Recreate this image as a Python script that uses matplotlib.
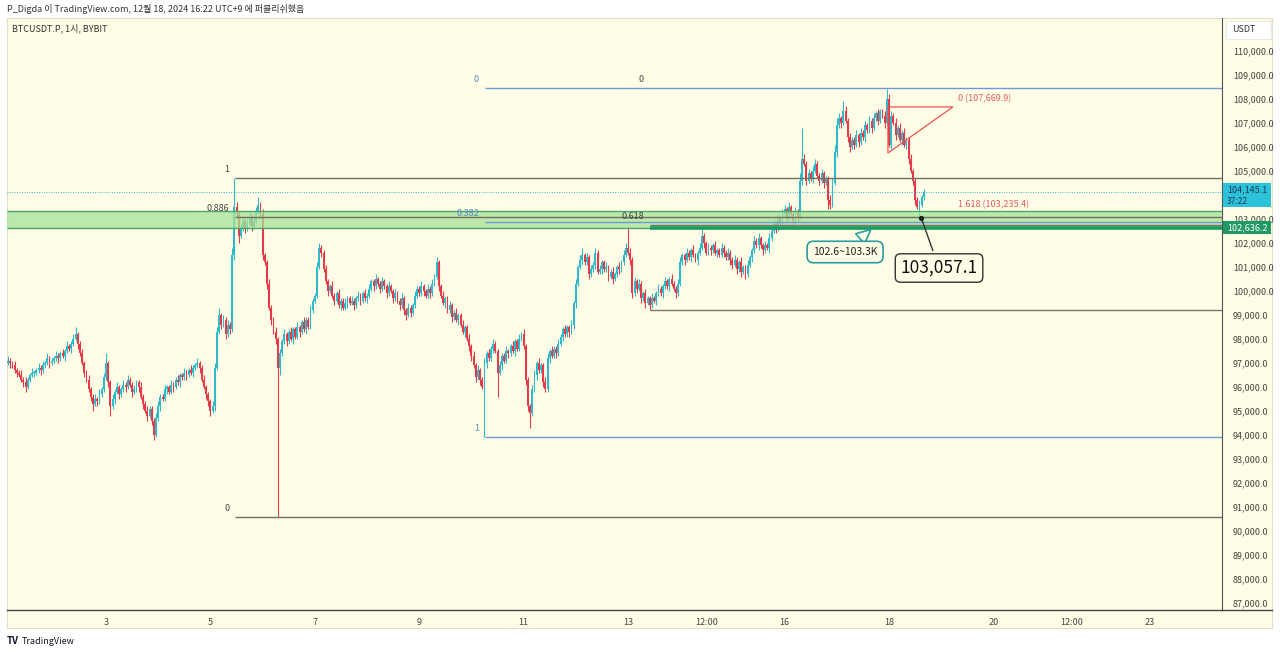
import matplotlib.pyplot as plt
import numpy as np
from matplotlib.patches import Rectangle, Polygon
from matplotlib.lines import Line2D

plt.rcParams["font.family"] = ["Noto Sans CJK KR", "DejaVu Sans"]

W, H = 1280, 654

# hourly candles from Dec 1 02:00 to Dec 18 16:00 (hours counted from Dec 1 00:00)
first_hour = 2
first_open = 96.9
# closes in thousand USDT, one row per day
closes = [
    97.0, 97.1, 97.0, 96.9, 96.7, 96.6, 96.5, 96.3, 96.2, 96.0, 96.3,
    96.5, 96.6, 96.6, 96.7, 96.8, 96.7, 96.9, 97.0, 97.2, 97.0, 97.1,
    97.2, 97.3, 97.2, 97.4, 97.3, 97.5, 97.7, 97.6, 97.8, 98.0, 98.2, 97.8,
    97.4, 97.0, 96.6, 96.3, 95.9, 95.6, 95.3, 95.5, 95.4, 95.7, 95.9, 96.4,
    97.0, 96.2, 95.2, 95.5, 95.8, 96.0, 95.7, 95.9, 96.1, 96.0, 96.3, 96.1,
    95.8, 95.9, 96.2, 96.0, 95.6, 95.3, 95.0, 94.8, 95.1, 94.6, 94.0, 94.7,
    95.2, 95.6, 95.5, 95.9, 96.0, 95.8, 96.1, 96.0, 96.3, 96.2, 96.5, 96.4,
    96.6, 96.5, 96.7, 96.6, 96.8, 96.9, 97.0, 96.8, 96.3, 96.0, 95.7, 95.4,
    95.0, 95.2, 96.8, 98.3, 99.0, 98.6, 98.8, 98.2, 98.6, 98.4, 101.5, 103.5,
    103.2, 102.3, 102.6, 102.9, 102.6, 102.8, 103.1, 102.7, 102.9, 103.3, 103.6, 103.2,
    101.5, 101.2, 100.3, 99.3, 98.8, 98.3, 98.0, 96.8, 97.4, 97.9, 98.2, 97.9,
    98.3, 98.0, 98.4, 98.1, 98.5, 98.3, 98.7, 98.4, 98.8, 98.5, 99.2, 99.6,
    99.8, 101.0, 101.8, 101.6, 100.9, 100.4, 100.0, 100.2, 99.8, 99.6, 99.9, 99.4,
    99.6, 99.3, 99.5, 99.7, 99.5, 99.6, 99.4, 99.7, 99.8, 99.6, 99.9, 99.7,
    99.8, 100.1, 100.4, 100.2, 100.5, 100.3, 100.1, 100.4, 100.2, 99.9, 100.2, 100.0,
    99.7, 99.9, 99.6, 99.4, 99.7, 99.2, 99.0, 99.3, 99.1, 99.4, 99.8, 100.1,
    99.9, 100.2, 100.0, 99.8, 100.1, 99.9, 100.3, 100.6, 101.2, 100.2, 99.8, 99.5,
    99.7, 99.2, 99.4, 98.9, 99.1, 98.8, 99.0, 98.6, 98.3, 98.5, 98.0, 97.7,
    97.3, 96.9, 96.4, 96.7, 96.3, 96.0, 97.0, 97.4, 97.2, 97.6, 97.8, 97.5,
    96.6, 96.9, 97.3, 97.1, 97.5, 97.4, 97.7, 97.5, 97.9, 97.6, 98.0, 98.2,
    97.7, 96.3, 95.2, 94.9, 95.9, 96.5, 97.0, 96.7, 96.9, 96.2, 95.9, 97.2,
    97.5, 97.3, 97.6, 97.4, 97.8, 98.1, 98.4, 98.2, 98.5, 98.3, 98.6, 99.5,
    100.3, 101.0, 101.3, 101.5, 101.2, 101.4, 100.7, 100.9, 101.1, 101.6, 100.8, 100.9,
    101.2, 100.9, 101.0, 100.6, 100.8, 100.5, 100.7, 101.0, 100.9, 101.2, 101.5, 101.8,
    101.6, 101.3, 99.9, 100.4, 100.1, 100.3, 99.7, 99.9, 99.5, 99.7, 99.4, 99.7,
    99.6, 99.9, 100.1, 99.9, 100.2, 100.4, 100.2, 100.5, 100.3, 100.1, 99.9, 100.3,
    101.2, 101.5, 101.3, 101.6, 101.4, 101.7, 101.5, 101.3, 101.6, 101.8, 102.3, 102.0,
    101.6, 101.8, 101.7, 101.9, 101.6, 101.7, 101.5, 101.8, 101.6, 101.4, 101.6, 101.3,
    101.1, 101.3, 100.9, 101.2, 100.8, 101.0, 100.7, 101.1, 101.4, 101.7, 102.1, 101.9,
    102.2, 101.9, 101.7, 101.9, 101.8, 102.2, 102.5, 102.8, 102.6, 103.0, 102.8, 103.2,
    103.4, 103.1, 103.5, 103.2, 102.9, 103.3, 103.1, 104.6, 105.5, 105.3, 104.6, 104.9,
    104.7, 105.0, 105.3, 104.8, 104.6, 104.9, 104.5, 104.7, 103.8, 103.6, 104.5, 105.8,
    106.9, 107.2, 107.0, 107.5, 107.1, 106.4, 106.0, 106.3, 106.1, 106.5, 106.2, 106.6,
    106.4, 106.9, 106.7, 107.1, 106.8, 107.2, 107.4, 107.1, 107.5, 107.3, 107.0, 108.0,
    106.1, 107.3, 107.0, 106.5, 106.8, 106.3, 106.6, 106.1, 106.3, 105.5, 105.0, 104.6,
    103.8, 103.5, 103.6, 103.9, 104.145,
]
# wick lengths beyond the body, in units of 100 USDT
wick_up = [
    1, 2, 1, 1, 2, 1, 1, 2, 1, 2, 1, 1, 2, 1, 1, 2, 1, 2, 1, 2, 1, 1,
    1, 2, 1, 1, 2, 1, 2, 1, 1, 2, 3, 1, 1, 2, 1, 1, 2, 1, 1, 2, 1, 2, 1, 2,
    4, 1, 1, 2, 1, 2, 1, 1, 2, 1, 2, 1, 1, 2, 1, 1, 2, 1, 1, 2, 1, 1, 1, 2,
    2, 1, 1, 2, 1, 1, 2, 1, 1, 2, 1, 1, 2, 1, 1, 2, 1, 1, 2, 1, 1, 2, 1, 1,
    1, 2, 2, 2, 3, 1, 2, 1, 2, 1, 3, 12, 2, 1, 2, 2, 1, 2, 2, 1, 2, 2, 3, 1,
    2, 1, 1, 2, 1, 1, 2, 1, 2, 1, 2, 1, 1, 2, 1, 1, 2, 1, 1, 2, 1, 1, 2, 1,
    1, 2, 2, 1, 1, 2, 1, 1, 2, 1, 1, 2, 1, 1, 2, 1, 1, 2, 1, 1, 2, 1, 1, 2,
    1, 2, 1, 1, 2, 1, 1, 2, 1, 1, 2, 1, 1, 2, 1, 1, 2, 1, 1, 2, 1, 1, 2, 1,
    1, 2, 1, 1, 2, 1, 2, 1, 2, 1, 1, 2, 1, 1, 2, 1, 1, 2, 1, 1, 2, 1, 1, 2,
    1, 2, 1, 2, 1, 1, 2, 1, 2, 1, 2, 1, 1, 2, 1, 1, 2, 1, 1, 2, 1, 1, 2, 1,
    2, 1, 1, 1, 2, 2, 1, 2, 1, 1, 2, 2, 1, 2, 1, 1, 2, 1, 1, 2, 1, 1, 2, 1,
    2, 1, 2, 3, 1, 2, 1, 2, 1, 2, 1, 2, 1, 1, 2, 1, 1, 2, 1, 1, 2, 1, 2, 2,
    9, 2, 1, 2, 1, 2, 1, 1, 2, 1, 1, 2, 1, 1, 2, 1, 1, 2, 1, 1, 2, 1, 1, 2,
    2, 1, 1, 2, 1, 1, 2, 1, 1, 2, 4, 1, 1, 2, 1, 1, 2, 1, 1, 2, 1, 1, 2, 1,
    1, 2, 1, 1, 2, 1, 1, 2, 1, 1, 2, 1, 2, 1, 1, 2, 1, 2, 1, 2, 1, 2, 1, 2,
    2, 1, 2, 1, 1, 2, 1, 3, 13, 2, 1, 2, 1, 2, 2, 1, 1, 2, 1, 1, 1, 2, 2, 3,
    3, 2, 1, 4, 2, 1, 2, 1, 1, 2, 1, 2, 1, 2, 1, 2, 1, 2, 1, 2, 1, 1, 2, 4,
    2, 2, 1, 2, 1, 2, 1, 2, 1, 1, 2, 1, 1, 1, 2, 1, 1,
]
wick_dn = [
    1, 1, 2, 1, 1, 2, 1, 1, 2, 2, 1, 1, 1, 2, 1, 1, 2, 1, 1, 1, 2, 1,
    1, 1, 2, 1, 1, 2, 1, 1, 2, 1, 1, 2, 1, 1, 2, 1, 1, 2, 3, 1, 2, 1, 1, 1,
    1, 2, 4, 1, 2, 1, 2, 1, 1, 2, 1, 1, 2, 1, 1, 2, 1, 2, 1, 2, 1, 2, 2, 1,
    1, 2, 1, 1, 2, 1, 1, 2, 1, 1, 2, 1, 1, 2, 1, 1, 2, 1, 1, 2, 1, 1, 2, 2,
    2, 1, 2, 1, 1, 2, 1, 2, 1, 2, 1, 2, 1, 3, 1, 1, 2, 1, 1, 2, 1, 1, 1, 2,
    2, 1, 2, 1, 2, 1, 2, 62, 3, 1, 1, 2, 1, 1, 2, 1, 1, 2, 1, 1, 2, 1, 1, 1,
    1, 1, 1, 2, 1, 1, 2, 1, 1, 2, 1, 1, 2, 1, 1, 2, 1, 1, 2, 1, 1, 2, 1, 1,
    2, 1, 1, 2, 1, 1, 2, 1, 1, 2, 1, 1, 2, 1, 1, 2, 1, 2, 2, 1, 2, 1, 1, 1,
    1, 1, 2, 1, 1, 2, 1, 1, 1, 2, 1, 1, 2, 1, 1, 2, 1, 1, 2, 1, 1, 2, 1, 2,
    2, 1, 2, 1, 2, 1, 21, 2, 1, 1, 2, 1, 10, 1, 2, 1, 1, 2, 1, 1, 2, 1, 1, 1,
    1, 2, 2, 6, 1, 1, 2, 1, 1, 2, 1, 1, 2, 1, 1, 2, 1, 1, 2, 1, 1, 2, 1, 2,
    2, 1, 1, 2, 1, 1, 2, 1, 1, 2, 1, 1, 2, 1, 1, 2, 1, 2, 1, 1, 2, 1, 1, 1,
    1, 2, 2, 1, 2, 1, 2, 1, 2, 1, 2, 1, 1, 2, 1, 1, 2, 1, 1, 2, 1, 1, 2, 1,
    1, 1, 2, 1, 1, 2, 1, 1, 2, 1, 1, 2, 1, 1, 2, 1, 1, 2, 1, 1, 2, 1, 1, 2,
    2, 1, 2, 1, 2, 1, 2, 1, 1, 2, 1, 1, 2, 1, 2, 1, 1, 2, 1, 1, 2, 1, 1, 1,
    1, 2, 1, 1, 2, 1, 2, 1, 2, 1, 2, 1, 1, 2, 1, 1, 2, 1, 2, 1, 4, 2, 1, 1,
    2, 1, 2, 1, 1, 2, 2, 1, 2, 1, 2, 1, 1, 2, 1, 1, 2, 1, 1, 2, 1, 1, 2, 1,
    1, 2, 1, 2, 1, 1, 2, 1, 2, 2, 1, 2, 2, 1, 4, 1, 1,
]

tick_hours = [48, 96, 144, 192, 240, 288, 324, 360, 408, 456, 492, 528]
tick_labels = ["3", "5", "7", "9", "11", "13", "12:00", "16", "18", "20", "12:00", "23"]
# 104,000 sits under the last-price badge, so it is not labelled
price_ticks = [v for v in range(87000, 110001, 1000) if v != 104000]

last_price = 104145.1
zone_low, zone_high = 102625.0, 103330.0
support_price = 102636.2
support_start = 298
low_hour, low_price = 422.8, 103057.1

# fib retracements: start hour, level-0 price, level-1 price, drawn levels, labelled levels
fib_left = (107.5, 90583.0, 104708.0, [0, 0.886, 1], [0, 0.886, 1])
fib_blue = (222.3, 108450.0, 93900.0, [0, 0.382, 1], [0, 0.382, 1])
fib_gray = (298.0, 108450.0, 99208.0, [0.618, 1], [0, 0.618])
# trend-based extension drawn on Dec 17/18
ext_hours = [407.5, 437.4, 407.5]
ext_prices = [107669.9, 107669.9, 105750.0]
ext_labels = [("0 (107,669.9)", 107669.9), ("1.618 (103,235.4)", 103235.4)]

UP, DOWN = "#2fbacb", "#e6394a"
BG = "#fffde6"

fig = plt.figure(figsize=(W / 100, H / 100), dpi=100)
fig.patch.set_facecolor("white")


def fx(px):
    return px / W


def fy(py):
    return 1 - py / H


fig.add_artist(Rectangle((fx(7), fy(628)), fx(1272) - fx(7), fy(18) - fy(628),
                         transform=fig.transFigure, fc=BG, ec="#e2dfc8", lw=0.8, zorder=-5))
ax = fig.add_axes([fx(7), fy(610), fx(1222) - fx(7), fy(18) - fy(610)])
ax.patch.set_alpha(0)
xmin, xmax = 2.48, 561.1
ax.set_xlim(xmin, xmax)
ax.set_ylim(86708, 111375)

# candles
c = np.array(closes) * 1000
o = np.concatenate([[first_open * 1000], c[:-1]])
hi = np.maximum(o, c) + np.array(wick_up) * 100
lo = np.minimum(o, c) - np.array(wick_dn) * 100
t = first_hour + np.arange(len(c))
cols = np.where(c >= o, UP, DOWN)
ax.vlines(t, lo, hi, colors=cols, lw=0.8, zorder=2)
ax.bar(t, np.maximum(np.abs(c - o), 40), bottom=np.minimum(o, c), width=0.85,
       color=cols, lw=0, zorder=2.1)

# green zone
ax.add_patch(Rectangle((xmin, zone_low), xmax - xmin, zone_high - zone_low,
                       fc="#a6e197", alpha=0.75, ec="none", zorder=3))
ax.hlines([zone_low, zone_high], xmin, xmax, color="#47a86a", lw=1.0, zorder=3.2)
ax.hlines(support_price, support_start, xmax, color="#1d9b63", lw=2.6, zorder=3.4)

# current price dotted line
ax.hlines(last_price, xmin, xmax, color="#2bb7cf", lw=0.7, ls=(0, (1, 1.5)), zorder=3)


def draw_fib(fib, color, lcolor):
    start, p0, p1, levels, labels = fib
    for lv in levels:
        ax.hlines(p0 + lv * (p1 - p0), start, xmax, color=color, lw=1.0, zorder=3.3)
    for lv in labels:
        ax.annotate(f"{lv:g}", xy=(start, p0 + lv * (p1 - p0)), xytext=(-6, 4),
                    textcoords="offset pixels", ha="right", va="bottom",
                    fontsize=6.5, color=lcolor, zorder=4)


draw_fib(fib_left, "#6f6f62", "#444444")
draw_fib(fib_blue, "#6c9ad6", "#5b86c8")
draw_fib(fib_gray, "#77776a", "#444444")

# extension triangle
ax.add_patch(Polygon(np.column_stack([ext_hours, ext_prices]), closed=True, fill=False,
                     ec="#ef5350", lw=0.9, zorder=4))
for txt, pr in ext_labels:
    ax.annotate(txt, xy=(ext_hours[1], pr), xytext=(5, 4), textcoords="offset pixels",
                ha="left", va="bottom", fontsize=6.5, color="#e35d5d", zorder=4)

# callouts
ax.annotate("102.6~103.3K", xy=(400.6, support_price), xytext=(387.8, 101625),
            ha="center", va="center", fontsize=7.5, color="#222222", zorder=6,
            bbox=dict(boxstyle="round,pad=0.55,rounding_size=0.6", fc=BG, ec="#2a9da5", lw=1.2),
            arrowprops=dict(arrowstyle="wedge,tail_width=1.3,shrink_factor=0.5",
                            fc=BG, ec="#2a9da5", lw=1.2))
ax.annotate("103,057.1", xy=(low_hour, low_price), xytext=(431.0, 100958),
            ha="center", va="center", fontsize=12.5, color="#111111", zorder=6,
            bbox=dict(boxstyle="round,pad=0.3,rounding_size=0.3", fc=BG, ec="#333333", lw=1.0),
            arrowprops=dict(arrowstyle="-", color="#333333", lw=1.0, shrinkB=0))
ax.plot(low_hour, low_price, "o", ms=2.8, color="#222222", zorder=7)

# axes
for s in ["left", "top"]:
    ax.spines[s].set_visible(False)
ax.spines["right"].set_color("#555555")
ax.spines["right"].set_linewidth(0.8)
ax.spines["bottom"].set_color("#444444")
ax.spines["bottom"].set_linewidth(1.0)
ax.yaxis.tick_right()
ax.set_yticks(price_ticks, [f"{v:,.1f}" for v in price_ticks])
ax.tick_params(axis="y", length=0, pad=8, labelsize=6.5, labelcolor="#444444")
ax.set_xticks(tick_hours, tick_labels)
ax.tick_params(axis="x", length=0, pad=6, labelsize=6.5, labelcolor="#444444")
fig.add_artist(Line2D([fx(1222), fx(1272)], [fy(610), fy(610)], color="#444444", lw=1.0,
                      transform=fig.transFigure))

# price axis badges
fig.add_artist(Rectangle((fx(1226), fy(39)), fx(45), 18 / H, transform=fig.transFigure,
                         fc="white", ec="#e6e6e6", lw=0.6, zorder=5))
fig.text(fx(1232), fy(30), "USDT", fontsize=6.5, color="#333333", va="center", zorder=6)
fig.add_artist(Rectangle((fx(1223), fy(207)), fx(48), 24 / H, transform=fig.transFigure,
                         fc="#2cc3da", ec="none", zorder=5))
fig.text(fx(1227), fy(190), f"{last_price:,.1f}", fontsize=6.5, color="#163a55", va="center", zorder=6)
fig.text(fx(1227), fy(201), "37:22", fontsize=6, color="#163a55", va="center", zorder=6)
fig.add_artist(Rectangle((fx(1223), fy(234)), fx(48), 13 / H, transform=fig.transFigure,
                         fc="#1f9a64", ec="none", zorder=5))
fig.text(fx(1227), fy(227.5), f"{support_price:,.1f}", fontsize=6.5, color="white",
         va="center", zorder=6)

# header and footer
fig.text(fx(7), fy(9), "P_Digda 이 TradingView.com, 12월 18, 2024 16:22 UTC+9 에 퍼블리쉬했음",
         fontsize=6.5, color="#333333", va="center")
fig.text(fx(12), fy(28), "BTCUSDT.P, 1시, BYBIT", fontsize=6.5, color="#333333", va="center")
fig.text(fx(7), fy(641), "TV", fontsize=7, fontweight="bold", color="#131722", va="center")
fig.text(fx(22), fy(641), "TradingView", fontsize=6.5, color="#131722", va="center")

fig.savefig("out.png", dpi=100, facecolor=fig.get_facecolor())
